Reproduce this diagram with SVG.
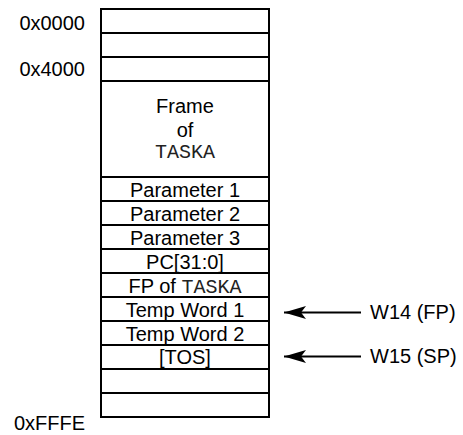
<svg xmlns="http://www.w3.org/2000/svg" width="463" height="435" viewBox="0 0 463 435">
<defs>
<style>
.t{font-family:"Liberation Sans",Arial,sans-serif;font-size:20px;fill:#000}
.c{text-anchor:middle}
.e{text-anchor:end}
.m{font-family:"Liberation Mono","Courier New",monospace;font-size:20px;fill:#222}
.cell{fill:#fff;stroke:#000;stroke-width:2}
.conn{stroke:#000;stroke-width:2;fill:none}
</style>
<marker id="ah" markerUnits="userSpaceOnUse" markerWidth="24" markerHeight="14" refX="22" refY="6.5" orient="auto">
<path d="M0,0 L22,6.5 L0,13 L5,6.5 Z" fill="#000"/>
</marker>
</defs>
<rect width="463" height="435" fill="#fff"/>
<g id="labels">
<text class="t e" x="85" y="30">0x0000</text>
<text class="t e" x="85" y="76">0x4000</text>
<text class="t e" x="85" y="430">0xFFFE</text>
</g>
<g id="cell0"><rect class="cell" x="101" y="9" width="168" height="24"/></g>
<g id="cell1"><rect class="cell" x="101" y="33" width="168" height="24"/></g>
<g id="cell2"><rect class="cell" x="101" y="57" width="168" height="24"/></g>
<g id="frame"><rect class="cell" x="101" y="81" width="168" height="96"/>
<text class="t c" x="185" y="113">Frame</text>
<text class="t c" x="185" y="137">of</text>
<text class="m c" x="185" y="158">TASKA</text></g>
<g id="param1"><rect class="cell" x="101" y="177" width="168" height="24"/><text class="t c" x="185" y="197">Parameter 1</text></g>
<g id="param2"><rect class="cell" x="101" y="201" width="168" height="24"/><text class="t c" x="185" y="221">Parameter 2</text></g>
<g id="param3"><rect class="cell" x="101" y="225" width="168" height="24"/><text class="t c" x="185" y="245">Parameter 3</text></g>
<g id="pc"><rect class="cell" x="101" y="249" width="168" height="24"/><text class="t c" x="185" y="269">PC[31:0]</text></g>
<g id="fp"><rect class="cell" x="101" y="273" width="168" height="24"/><text class="t c" x="185" y="293">FP of <tspan class="m">TASKA</tspan></text></g>
<g id="temp1"><rect class="cell" x="101" y="297" width="168" height="24"/><text class="t c" x="185" y="317">Temp Word 1</text></g>
<g id="temp2"><rect class="cell" x="101" y="321" width="168" height="24"/><text class="t c" x="185" y="341">Temp Word 2</text></g>
<g id="tos"><rect class="cell" x="101" y="345" width="168" height="24"/><text class="t c" x="185" y="364">[TOS]</text></g>
<g id="cell13"><rect class="cell" x="101" y="369" width="168" height="24"/></g>
<g id="cell14"><rect class="cell" x="101" y="393" width="168" height="24"/></g>
<g id="w14"><text class="t" x="370" y="319">W14 (FP)</text></g>
<g id="w15"><text class="t" x="370" y="363">W15 (SP)</text></g>
<g id="connectors">
<line class="conn" x1="361" y1="312.5" x2="284" y2="312.5" marker-end="url(#ah)"/>
<line class="conn" x1="361" y1="356.5" x2="284" y2="356.5" marker-end="url(#ah)"/>
</g>
</svg>
